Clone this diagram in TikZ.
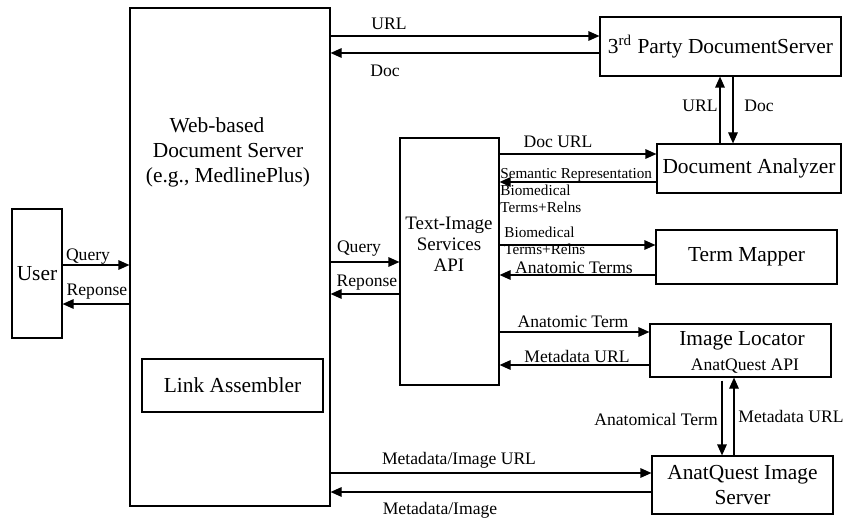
\documentclass[tikz,border=0pt]{standalone}
\usepackage{fontspec}
\setmainfont{Liberation Serif}
\usetikzlibrary{arrows.meta}
\tikzset{
  blk/.style={draw,line width=0.6pt,inner sep=0pt,align=center,font=\fontsize{10.7}{12.5}\selectfont},
  lbl/.style={inner sep=0pt,font=\fontsize{8.8}{10}\selectfont},
  sml/.style={inner sep=0pt,align=left,font=\fontsize{7.6}{8.5}\selectfont},
  arr/.style={line width=0.6pt,-{Triangle[length=5.5pt,width=4.8pt]}}
}
\begin{document}
\begin{tikzpicture}[x=0.5pt,y=-0.5pt]
\useasboundingbox (0,0) rectangle (847,519);

\node[blk,minimum width=25pt,minimum height=64.5pt] (user) at (37,273.5) {User};
\node[blk,minimum width=100pt,minimum height=249pt] (web) at (230,257) {};
\node[blk,draw=none] (webtxt) at (228,152) {Web-based\hspace*{11pt}\\Document Server\\(e.g., MedlinePlus)};
\node[blk,minimum width=90.5pt,minimum height=26.5pt] (link) at (232.5,385.5) {Link Assembler};
\node[blk,minimum width=49.5pt,minimum height=123.5pt] (api) at (449.5,261.5) {};
\node[align=center,inner sep=0pt,font=\fontsize{9.5}{10.5}\selectfont] (apitxt) at (449,244) {Text-Image\\Services\\API};
\node[blk,minimum width=120.5pt,minimum height=29.5pt] (doc3) at (720.5,46.5) {3\textsuperscript{rd} Party DocumentServer};
\node[blk,minimum width=92pt,minimum height=24.5pt] (analyzer) at (749,168.5) {Document Analyzer};
\node[blk,minimum width=90.5pt,minimum height=27pt] (mapper) at (746.5,257) {Term Mapper};
\node[blk,minimum width=90.5pt,minimum height=26.5pt] (locator) at (740.5,350.5) {};
\node[blk,draw=none] (loctxt) at (742,341) {Image Locator};
\node[lbl] (locapi) at (745,366) {AnatQuest API};
\node[blk,minimum width=90.5pt,minimum height=29pt] (aqserver) at (742.5,485) {AnatQuest Image\\Server};

% arrows to the right
\foreach \s/\t/\y in {user/web/265,web/api/262,web/doc3/36,api/analyzer/154,api/mapper/245,api/locator/332,web/aqserver/473}
{
    \draw[arr] (\s.east |- 0,\y) -- (\t.west |- 0,\y);
}
% arrows to the left
\foreach \s/\t/\y in {web/user/304,api/web/294,doc3/web/53,analyzer/api/182,mapper/api/275,locator/api/365,aqserver/web/492}
{
    \draw[arr] (\s.west |- 0,\y) -- (\t.east |- 0,\y);
}
\draw[arr] (analyzer.north -| 720,0) -- (doc3.south -| 720,0);
\draw[arr] (doc3.south -| 733,0) -- (analyzer.north -| 733,0);
\draw[arr,shorten <=1.5pt] (locator.south -| 722,0) -- (aqserver.north -| 722,0);
\draw[arr] (aqserver.north -| 734,0) -- (locator.south -| 734,0);

\node[lbl] (qu) at (88,257) {Query};
\node[lbl] (ru) at (97,292) {Reponse};
\node[lbl] (qa) at (359,249) {Query};
\node[lbl] (ra) at (367,283) {Reponse};
\node[lbl] (lurl) at (389,24) {URL};
\node[lbl] (ldoc) at (385,71) {Doc};
\node[lbl] (vurl) at (700,106) {URL};
\node[lbl] (vdoc) at (759,106) {Doc};
\node[lbl] (ldocurl) at (558,142) {Doc URL};
\node[sml,anchor=west] (lsem) at (500,191) {Semantic Representation\\Biomedical\\Terms+Relns};
\node[sml,anchor=west] (lbio) at (504,240.5) {Biomedical\\Terms+Relns};
\node[lbl] (lanats) at (574,268) {Anatomic Terms};
\node[lbl] (lanat) at (573,322) {Anatomic Term};
\node[lbl] (lmeta) at (577,356) {Metadata URL};
\node[lbl] (lanatl) at (656,419) {Anatomical Term};
\node[lbl] (lmetav) at (791,416) {Metadata URL};
\node[lbl] (lmiu) at (459,460) {Metadata/Image URL};
\node[lbl] (lmi) at (440,510) {Metadata/Image};

\end{tikzpicture}
\end{document}
